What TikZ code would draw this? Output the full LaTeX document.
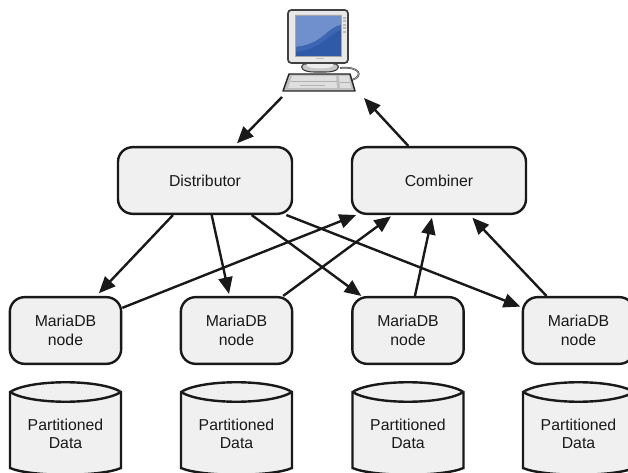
\documentclass[tikz,border=0pt]{standalone}
\usepackage{fontspec}
\setmainfont{Liberation Sans}
\usetikzlibrary{arrows.meta}
\definecolor{boxfill}{gray}{0.94}
\definecolor{linec}{gray}{0.1}
\definecolor{scrA}{HTML}{2F5AA8}
\definecolor{scrB}{HTML}{6F90CC}
\definecolor{scrC}{HTML}{3D66B4}
\tikzset{
  box/.style={draw=linec,fill=boxfill,line width=1.8pt,rounded corners=11pt,inner sep=0pt,align=center,font=\fontsize{11.85}{14}\selectfont,text=linec},
  large/.style={box,minimum width=130.5pt,minimum height=50pt},
  small/.style={box,minimum width=83.5pt,minimum height=50pt},
  conn/.style={draw=linec,line width=1.8pt,-{Triangle[length=12.5pt,width=10.5pt]}},
  label/.style={align=center,font=\fontsize{11.85}{14}\selectfont,text=linec},
  cyl/.style={draw=linec,fill=boxfill,line width=1.8pt}
}
\newcommand{\partdata}[2]{%
  \path[cyl] (#1-55.5,392) -- (#1-55.5,468) .. controls (#1-35,477) and (#1+35,477) .. (#1+55.5,468) -- (#1+55.5,392) .. controls (#1+35,379) and (#1-35,379) .. (#1-55.5,392) -- cycle;
  \path[cyl] (#1-55.5,392) .. controls (#1-35,405) and (#1+35,405) .. (#1+55.5,392);
  \node[label] (#2) at (#1,434) {Partitioned\\Data};
}
\begin{document}
\begin{tikzpicture}[x=0.75pt,y=-0.75pt]
\useasboundingbox (0,0) rectangle (628,473);
\clip (0,0) rectangle (628,473);
\fill[white] (0,0) rectangle (628,473);
% computer
\draw[gray!55!black,line width=1.3pt] (340,68) .. controls (360,66) and (364,76) .. (352,80);
\draw[gray!80,line width=0.6pt] (340,68) .. controls (360,66) and (364,76) .. (352,80);
\draw[gray!45!black,line width=0.8pt,fill=gray!45] (304,64) -- (336,64) .. controls (342,68) and (336,72) .. (326,72) -- (314,72) .. controls (304,72) and (298,68) .. (304,64) -- cycle;
\fill[gray!15] (308,63) -- (332,63) .. controls (337,66) and (330,68.5) .. (320,68.5) .. controls (310,68.5) and (303,66) .. (308,63) -- cycle;
\draw[gray!50!black,fill=gray!18,line width=1.3pt,rounded corners=2.5pt] (288,10) rectangle (348,63);
\fill[scrA] (295,15) rectangle (341,56);
\fill[scrB] (295,15) -- (341,15) -- (341,25) .. controls (326,28) and (322,45) .. (295,47) -- cycle;
\fill[scrC] (295,47) .. controls (322,45) and (326,28) .. (341,25) -- (341,30) .. controls (328,34) and (322,49) .. (295,52) -- cycle;
\draw[gray!70,line width=0.3pt] (295,15) rectangle (341,56);
\foreach \yy in {17,20.5,24,27.5,31}{\fill[gray!55] (343.3,\yy) rectangle (345.7,\yy+1.8);}
\fill[gray!50] (316,58) rectangle (324,59.5);
\draw[gray!30!black,line width=1.1pt,fill=gray!50,line join=round] (289,74) -- (350,74) -- (355,91) -- (283,91) -- cycle;
\fill[gray!25] (292,76) -- (336,76) -- (337,88) -- (288,88) -- cycle;
\fill[gray!25] (339,76) -- (349,76) -- (351,88) -- (340,88) -- cycle;
\draw[gray!60,line width=0.5pt] (291,81.5) -- (336.5,81.5);
\draw[gray!60,line width=0.5pt] (300,85) -- (325,85);
\draw[gray!60,line width=0.5pt] (339.5,82) -- (350,82);
% nodes
\coordinate (pcin) at (282,97);
\coordinate (pcout) at (364,98);
\node[large] (dist) at (205,180.5) {Distributor};
\node[large] (comb) at (439,180.5) {Combiner};
\node[small] (n1) at (65.5,330.5) {MariaDB\\node};
\node[small] (n2) at (236.5,330.5) {MariaDB\\node};
\node[small] (n3) at (408,330.5) {MariaDB\\node};
\node[small] (n4) at (578.5,330.5) {MariaDB\\node};
\partdata{65.5}{d1}
\partdata{236.5}{d2}
\partdata{408}{d3}
\partdata{578.5}{d4}
% connectors
\draw[conn] (pcin) -- ([xshift=24pt,yshift=2pt]dist.north);
\draw[conn] ([xshift=-23pt]comb.north) -- (pcout);
\draw[conn] ([xshift=-24pt]dist.south) -- ([xshift=25pt,yshift=2pt]n1.north);
\draw[conn] ([xshift=5pt]dist.south) -- ([xshift=-5.6pt,yshift=1.5pt]n2.north);
\draw[conn] ([xshift=35pt]dist.south) -- ([xshift=-35pt]n3.north);
\draw[conn] ([xshift=61pt]dist.south) -- ([xshift=-1pt,yshift=-8pt]n4.north west);
\draw[conn] ([yshift=17pt]n1.east) -- ([xshift=4pt]comb.south west);
\draw[conn] ([xshift=35pt]n2.north) -- ([xshift=-36pt,yshift=-1pt]comb.south);
\draw[conn] ([xshift=5.2pt]n3.north) -- ([xshift=-5.3pt,yshift=-2pt]comb.south);
\draw[conn] ([xshift=-24pt]n4.north) -- ([xshift=25pt,yshift=-2pt]comb.south);
\end{tikzpicture}
\end{document}
